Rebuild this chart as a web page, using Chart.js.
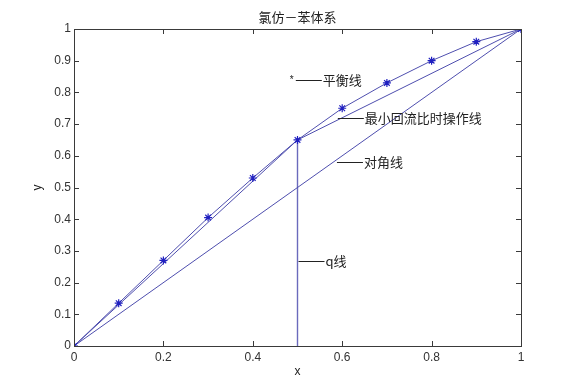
<!DOCTYPE html>
<html lang="zh">
<head>
    <meta charset="UTF-8">
    <title>氯仿－苯体系</title>
    <script src="https://cdn.jsdelivr.net/npm/chart.js"></script>
    <style>
        html, body { margin: 0; padding: 0; background: #fff; }
        #wrap { width: 576px; height: 388px; position: relative; }
    </style>
</head>
<body>
<div id="wrap"><canvas id="c" width="576" height="388"></canvas></div>
<script>
    // equilibrium curve (points marked with *)
    const eqX = [0, 0.1, 0.2, 0.3, 0.4, 0.5, 0.6, 0.7, 0.8, 0.9, 1];
    const eqY = [0, 0.135, 0.27, 0.405, 0.53, 0.65, 0.75, 0.83, 0.9, 0.96, 1];
    // operating line at minimum reflux
    const opX = [0, 0.5, 1];
    const opY = [0, 0.65, 1];
    // diagonal
    const diagX = [0, 1];
    const diagY = [0, 1];
    // q line
    const qX = [0.5, 0.5];
    const qY = [0, 0.65];

    const xTicks = [0, 0.2, 0.4, 0.6, 0.8, 1];
    const yTicks = [0, 0.1, 0.2, 0.3, 0.4, 0.5, 0.6, 0.7, 0.8, 0.9, 1];

    // text labels placed in data coordinates (start of the leader line)
    const labelText = ['平衡线', '最小回流比时操作线', '对角线', 'q线'];
    const labelX = [0.494, 0.588, 0.586, 0.5];
    const labelY = [0.839, 0.718, 0.581, 0.268];

    const pts = (xs, ys) => xs.map((x, i) => ({ x: x, y: ys[i] }));
    const lineBlue = '#4e4eae';
    const axisCol = '#3a3a3a';
    const cjk = '"Noto Sans CJK SC", "Noto Sans", sans-serif';

    const decor = {
        id: 'decor',
        afterDraw(chart) {
            const c = chart.ctx, a = chart.chartArea;
            const xs = chart.scales.x, ys = chart.scales.y;
            c.save();
            // box and inward ticks
            c.strokeStyle = axisCol;
            c.lineWidth = 1;
            c.strokeRect(a.left + 0.5, a.top + 0.5, a.right - a.left, a.bottom - a.top);
            c.beginPath();
            xTicks.forEach(v => {
                const px = Math.round(xs.getPixelForValue(v)) + 0.5;
                c.moveTo(px, a.bottom); c.lineTo(px, a.bottom - 5);
                c.moveTo(px, a.top); c.lineTo(px, a.top + 5);
            });
            yTicks.forEach(v => {
                const py = Math.round(ys.getPixelForValue(v)) + 0.5;
                c.moveTo(a.left, py); c.lineTo(a.left + 5, py);
                c.moveTo(a.right, py); c.lineTo(a.right - 5, py);
            });
            c.stroke();

            // title and axis names
            c.fillStyle = '#222';
            c.textAlign = 'center';
            c.textBaseline = 'middle';
            c.font = '13px ' + cjk;
            c.fillText('氯仿－苯体系', (a.left + a.right) / 2, 17);
            c.font = '12px "Liberation Sans", Arial, sans-serif';
            c.fillText('x', (a.left + a.right) / 2, 372);
            c.save();
            c.translate(38, (a.top + a.bottom) / 2);
            c.rotate(-Math.PI / 2);
            c.fillText('y', 0, 0);
            c.restore();

            // annotations with leader lines
            c.textAlign = 'left';
            c.font = '13px ' + cjk;
            c.strokeStyle = '#222';
            labelText.forEach((t, i) => {
                const px = xs.getPixelForValue(labelX[i]) + 1;
                const py = Math.round(ys.getPixelForValue(labelY[i])) + 0.5;
                c.beginPath();
                c.moveTo(px, py); c.lineTo(px + 26, py);
                c.stroke();
                c.fillStyle = '#222';
                c.fillText(t, px + 27, py);
                if (i === 0) {
                    c.font = '10px "Liberation Sans", Arial, sans-serif';
                    c.fillText('*', px - 6, py);
                    c.font = '13px ' + cjk;
                }
            });
            c.restore();
        }
    };

    new Chart(document.getElementById('c'), {
        type: 'scatter',
        data: {
            datasets: [
                { label: '平衡线', data: pts(eqX, eqY), showLine: true, borderColor: lineBlue, borderWidth: 1,
                  pointStyle: 'star', pointRadius: 4, pointBorderColor: '#2020c0', pointBorderWidth: 1.2,
                  pointBackgroundColor: '#2020c0' },
                { label: '最小回流比时操作线', data: pts(opX, opY), showLine: true, borderColor: lineBlue,
                  borderWidth: 1, pointRadius: 0 },
                { label: '对角线', data: pts(diagX, diagY), showLine: true, borderColor: lineBlue,
                  borderWidth: 1, pointRadius: 0 },
                { label: 'q线', data: pts(qX, qY), showLine: true, borderColor: '#6a6abc',
                  borderWidth: 1.4, pointRadius: 0 }
            ]
        },
        options: {
            responsive: false,
            animation: false,
            layout: { padding: { left: 0, right: 55, top: 29, bottom: 0 } },
            plugins: { legend: { display: false }, tooltip: { enabled: false } },
            scales: {
                x: {
                    type: 'linear', min: 0, max: 1,
                    afterFit(s) { s.height = 42; },
                    afterBuildTicks(s) { s.ticks = xTicks.map(v => ({ value: v })); },
                    grid: { display: false, drawTicks: false },
                    border: { display: false },
                    ticks: {
                        padding: 4, color: '#333',
                        font: { family: '"Liberation Sans", Arial, sans-serif', size: 12 },
                        callback: v => String(+v.toFixed(1))
                    }
                },
                y: {
                    type: 'linear', min: 0, max: 1,
                    afterFit(s) { s.width = 74; },
                    afterBuildTicks(s) { s.ticks = yTicks.map(v => ({ value: v })); },
                    grid: { display: false, drawTicks: false },
                    border: { display: false },
                    ticks: {
                        padding: 3, color: '#333',
                        font: { family: '"Liberation Sans", Arial, sans-serif', size: 12 },
                        callback: v => String(+v.toFixed(1))
                    }
                }
            }
        },
        plugins: [decor]
    });
</script>
</body>
</html>
